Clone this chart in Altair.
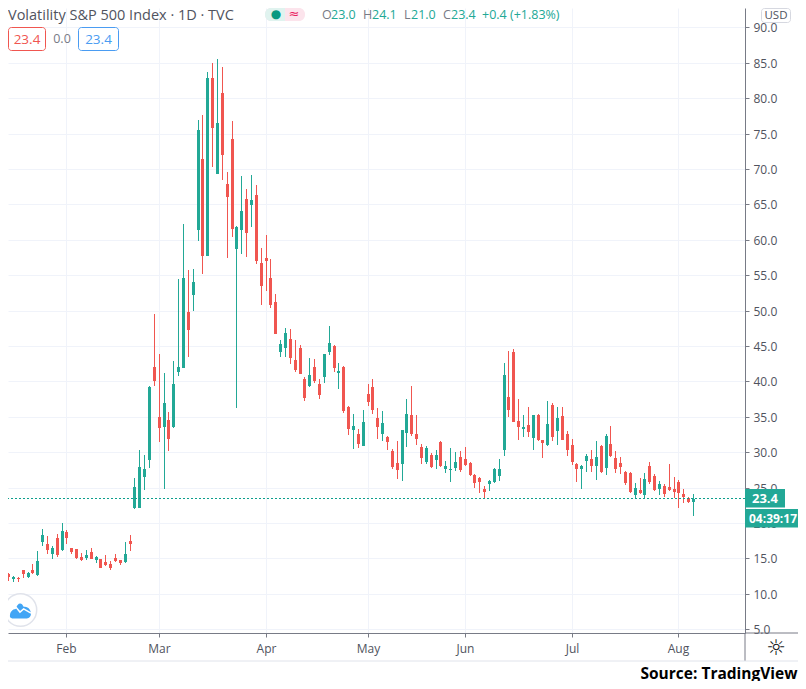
import altair as alt
import pandas as pd

GREEN = "#22a896"
RED = "#f05650"
GRID = "#f0f3fa"
AXIS = "#787b86"
TEXT = "#50535e"
FONT = "Open Sans"

high = [13.9,12.97,12.5,12.4,13.35,13.07,14.2,16.03,19.14,18.15,
16.74,18.39,19.99,19.0,16.46,16.32,15.75,16.17,16.46,15.33,
14.9,15.47,14.62,15.61,14.76,17.3,18.29,26.34,30.3,29.59,
39.34,49.5,43.86,41.17,35.66,42.87,54.45,62.2,55.7,55.86,
76.9,77.61,83.68,84.95,85.52,84.39,69.56,76.76,61.93,69.0,
67.16,69.13,67.72,58.82,60.66,57.27,52.33,45.83,47.53,47.39,
45.83,45.13,40.61,43.29,43.15,40.33,43.86,47.81,45.13,42.59,
42.16,36.51,35.38,33.26,35.95,39.62,40.33,36.23,35.81,32.28,
30.44,31.57,33.12,37.5,39.34,35.24,31.15,30.86,29.88,30.3,
31.57,28.75,30.58,30.02,30.16,30.72,28.6,26.91,26.48,25.21,
26.06,27.76,29.03,42.59,44.28,44.56,37.5,35.24,36.37,35.24,
35.38,31.71,37.21,36.93,36.37,36.37,32.98,31.85,28.46,28.17,
29.73,30.29,31.56,31.0,32.55,33.68,30.15,29.3,27.33,27.19,
25.63,26.34,27.05,28.6,26.9,25.92,25.49,28.32,26.48,26.06,
24.78,23.66,24.1]
low = [11.94,11.84,11.7,11.7,12.27,12.27,12.78,12.55,16.79,15.66,
14.95,15.23,16.03,17.02,15.66,14.95,14.67,14.81,14.9,14.38,
13.68,13.96,13.4,14.53,14.1,14.38,16.03,21.96,22.11,24.65,
27.75,39.34,31.43,24.79,30.15,33.4,40.75,41.88,43.43,49.93,
59.81,55.15,57.69,70.26,69.27,68.43,57.41,60.38,36.27,57.98,
57.55,61.79,56.56,50.82,52.8,50.4,46.73,43.43,43.43,42.44,
41.31,41.03,37.22,39.2,39.76,37.5,39.76,43.72,41.31,38.91,
35.52,32.42,30.44,30.58,30.86,36.51,35.38,31.85,31.57,30.3,
27.62,26.2,25.92,30.72,32.28,31.0,28.32,28.32,27.76,27.62,
27.9,27.05,25.78,27.33,27.19,28.04,26.63,24.93,24.22,23.52,
24.51,25.64,25.92,29.45,34.96,34.25,31.71,32.13,32.13,30.3,
31.57,29.16,30.86,31.57,31.0,31.71,29.45,28.17,25.77,24.79,
27.19,27.19,26.06,27.05,26.76,29.3,27.05,26.9,25.35,24.22,
23.52,24.08,23.52,25.49,24.5,23.94,23.66,24.5,23.52,22.1,
22.8,22.8,21.0]
body_top = [12.78,12.78,12.31,12.22,13.30,12.92,13.3,14.57,18.29,17.02,
16.41,17.87,18.86,18.72,16.46,16.32,15.18,15.47,15.89,15.18,
14.9,14.43,14.2,15.04,14.72,15.61,17.44,25.07,27.9,27.61,
39.2,42.02,34.96,36.93,34.53,39.62,42.02,54.59,49.79,54.03,
75.49,71.39,82.84,82.84,76.48,80.72,67.86,74.22,61.79,64.05,
65.75,65.6,66.31,56.7,57.41,54.59,51.2,45.27,46.82,45.97,
43.01,44.7,40.32,40.89,42.02,39.62,43.86,45.41,44.99,41.46,
42.02,36.37,33.69,32.56,34.25,38.21,39.2,34.82,34.11,32.13,
30.16,28.46,33.12,35.38,35.24,32.56,30.72,30.58,29.59,29.59,
31.43,28.04,27.61,28.6,29.31,29.03,28.46,26.77,26.34,24.79,
25.92,27.61,27.61,40.89,37.78,44.14,34.39,33.54,33.82,35.24,
35.24,31.71,33.97,36.65,34.81,35.09,32.55,31.0,28.32,28.03,
29.45,29.02,29.3,30.86,32.27,31.14,29.16,28.46,27.19,27.05,
24.92,24.64,26.2,28.03,26.62,25.49,25.21,25.07,24.78,25.77,
24.08,23.45,23.4]
body_bottom = [12.36,12.41,12.03,12.08,12.78,12.41,12.88,12.64,17.3,16.17,
15.66,15.42,16.17,17.87,15.89,15.04,14.81,15.04,14.95,14.76,
13.68,14.05,13.63,14.67,14.29,14.48,17.02,22.11,22.11,26.48,
28.88,40.04,33.4,33.54,31.85,33.54,41.31,41.88,47.25,52.19,
61.37,57.69,57.69,75.77,69.27,71.96,66.03,61.51,58.68,61.37,
60.94,64.9,56.99,53.51,56.99,50.82,46.73,44.14,44.7,43.29,
41.6,41.03,37.64,39.34,40.04,38.06,40.61,44.14,41.88,41.17,
35.81,33.26,33.12,31.15,30.86,37.08,35.95,33.55,32.56,31.43,
27.9,27.47,28.32,32.7,32.56,31.85,29.17,28.6,27.9,28.89,
28.04,27.61,27.47,27.76,27.47,28.18,26.77,25.64,25.78,24.37,
25.5,25.78,26.63,30.3,35.95,34.25,33.54,33.26,32.84,31.99,
31.71,31.28,31.0,32.13,32.98,31.71,30.29,28.6,27.61,27.61,
28.74,28.03,28.03,27.19,27.75,29.45,27.61,27.89,25.63,24.36,
23.94,24.22,23.94,25.77,24.64,24.78,24.08,24.64,24.36,24.22,
23.66,22.95,23.0]
direction = ("rrgrrgrggr" "grgrrrrgrg" "rrrrrgrggg" "grrgrgggrg" "grgrgrrrgg"
             "rgrrrrrggr" "rrrgrrggrg" "rrgrgrrrgr" "rrggrrrgrg" "rgggrrrrrr"
             "ggggrrrgrg" "rrgrgrrrrg" "grgrgrrrrr" "grgrrgrrrr" "rrg")

month_ticks = [13, 32, 54, 75, 95, 117, 139]
month_labels = ["Feb", "Mar", "Apr", "May", "Jun", "Jul", "Aug"]
price_ticks = [5 * k for k in range(1, 19)]
last_price = 23.4

df = pd.DataFrame({"i": range(len(high)), "high": high, "low": low,
                   "top": body_top, "bottom": body_bottom, "dir": list(direction)})

label_expr = "".join(f"datum.value == {t} ? '{l}' : " for t, l in zip(month_ticks, month_labels)) + "''"

x_scale = alt.Scale(domain=[0.968, 152.71], nice=False, zero=False, padding=0, round=True)
y_scale = alt.Scale(domain=[4.45, 92.73], nice=False, zero=False, padding=0, round=True)
x_axis = alt.Axis(values=month_ticks, labelExpr=label_expr, title=None, grid=True, gridColor=GRID,
                  domainColor=AXIS, tickColor=AXIS, tickSize=4, labelColor=TEXT, labelFont=FONT,
                  labelFontSize=12, labelPadding=6, labelFlush=False, labelOverlap=False)
y_axis = alt.Axis(values=price_ticks, format=".1f", orient="right", title=None, grid=True, gridColor=GRID,
                  domainColor=AXIS, tickColor=AXIS, tickSize=4, labelColor=TEXT, labelFont=FONT,
                  labelFontSize=12, labelPadding=4, labelOverlap=False, labelFlush=False)
X = alt.X("i:Q", scale=x_scale, axis=x_axis)
C = alt.Color("dir:N", scale=alt.Scale(domain=["g", "r"], range=[GREEN, RED]), legend=None)

wicks = alt.Chart(df).mark_rule(strokeWidth=1, clip=True, xOffset=0.5).encode(
    x=X, y=alt.Y("high:Q", scale=y_scale, axis=y_axis), y2="low:Q", color=C)
bodies = alt.Chart(df).mark_bar(size=3, clip=True, xOffset=0.5).encode(
    x=X, y=alt.Y("top:Q", scale=y_scale, axis=y_axis), y2="bottom:Q", color=C)
last_line = alt.Chart(pd.DataFrame({"p": [last_price]})).mark_rule(
    color="#0d9f8c", strokeDash=[2, 2], strokeWidth=1, yOffset=-0.5).encode(
    y=alt.Y("p:Q", scale=y_scale, axis=y_axis))

blank = alt.Data(values=[{"a": 0}])


def px(v):
    return alt.value(v)


def text(label, x, y, color=TEXT, size=12, weight="normal", align="left", font=FONT):
    return alt.Chart(blank).mark_text(text=label, align=align, baseline="middle", color=color,
                                      fontSize=size, fontWeight=weight, font=font).encode(
        x=px(x - 8), y=px(y - 8))


def box(x1, x2, y1, y2, fill="white", stroke=None, radius=0):
    kw = {"fill": fill, "cornerRadius": radius}
    if stroke:
        kw.update(stroke=stroke, strokeWidth=1)
    return alt.Chart(blank).mark_rect(**kw).encode(
        x=px(x1 - 8), x2=px(x2 - 8), y=px(y1 - 8), y2=px(y2 - 8))


def line(x1, x2, y1, y2, color):
    return alt.Chart(blank).mark_rule(color=color, strokeWidth=1).encode(
        x=px(x1 - 8), x2=px(x2 - 8), y=px(y1 - 8), y2=px(y2 - 8))


def shape(path, x, y, size, fill=None, stroke=None, sw=1):
    kw = {"shape": path, "size": size, "opacity": 1, "filled": fill is not None}
    if fill:
        kw["fill"] = fill
    if stroke:
        kw.update(stroke=stroke, strokeWidth=sw)
    return alt.Chart(blank).mark_point(**kw).encode(x=px(x - 8), y=px(y - 8))


CLOUD = ("M-1,0.7 C-1.05,0.2 -0.8,-0.1 -0.45,-0.1 C-0.3,-0.7 0.1,-0.8 0.3,-0.3 "
         "C0.7,-0.4 1,0 1,0.35 C1,0.6 0.85,0.8 0.6,0.8 L-0.8,0.8 Z")
WAVE = "M-1,0.15 L-0.5,-0.35 L-0.05,0.2 L0.3,-0.1 L1,0.3"

annotations = [
    box(745, 785, 489, 507.5, fill=GREEN),
    box(745, 798, 509, 527.5, fill=GREEN),
    text("23.4", 752, 498.5, color="white", size=13, weight="bold"),
    text("04:39:17", 749, 518.5, color="white", size=12, weight="bold"),
    line(745, 745, 633, 661, AXIS),
    line(745, 798, 633, 633, AXIS),
    line(8, 798, 661, 661, "#e0e3eb"),
    text("\u263c", 776, 648, color="#131722", size=22, align="center", font="DejaVu Sans"),
    text("Source: TradingView", 797.5, 674, color="#000000", size=15.5, weight="bold", align="right"),
    text("Volatility S&P 500 Index \u00b7 1D \u00b7 TVC", 8, 16, color=TEXT, size=14.5),
    box(8.5, 45.5, 27.5, 50.5, stroke=RED, radius=3),
    text("23.4", 27, 39.5, color=RED, size=13.5, align="center"),
    text("0.0", 62, 39, color="#787b86", size=12.5, align="center"),
    box(78.5, 118.5, 27.5, 50.5, stroke="#4a9cf2", radius=3),
    text("23.4", 98.5, 39.5, color="#4a9cf2", size=13.5, align="center"),
    box(265, 305, 8, 21, fill="#fce4ec", radius=6),
    box(265, 285, 8, 21, fill="#e0f3ef", radius=6),
    box(275, 285, 8, 21, fill="#e0f3ef"),
    text("\u25cf", 276, 14, color="#089981", size=12, align="center", font="DejaVu Sans"),
    text("\u2248", 294, 14, color="#e91e63", size=13, align="center", font="DejaVu Sans"),
]
ohlc = [("O", 322, "23.0", 331), ("H", 363, "24.1", 372), ("L", 404, "21.0", 411), ("C", 443, "23.4", 451)]
for letter, lx, value, vx in ohlc:
    annotations.append(text(letter, lx, 15, color="#787b86", size=12.5))
    annotations.append(text(value, vx, 15, color=GREEN, size=12.5))
annotations += [
    text("+0.4 (+1.83%)", 482, 15, color=GREEN, size=12.5),
    box(761.5, 790.5, 8.5, 22.5, stroke="#d6d8e0", radius=3),
    text("USD", 776, 15.5, color=TEXT, size=11.5, align="center"),
    alt.Chart(blank).mark_point(shape="circle", size=1050, filled=True, fill="white", stroke="#e0e3eb",
                                strokeWidth=1.5, opacity=1).encode(x=px(12.5), y=px(602)),
    shape(CLOUD, 20.5, 610, 440, fill="#42a5f5"),
    shape(WAVE, 20.5, 610, 440, stroke="white", sw=1.5),
]

chart = alt.layer(wicks, bodies, last_line, *annotations).properties(
    width=737, height=625,
    padding={"left": 0, "top": 0, "right": 53, "bottom": 48},
    autosize=alt.AutoSizeParams(type="none"),
    background="white",
).configure_view(stroke=None)

chart.save("out.html", embed_options={"renderer": "svg", "actions": False})
